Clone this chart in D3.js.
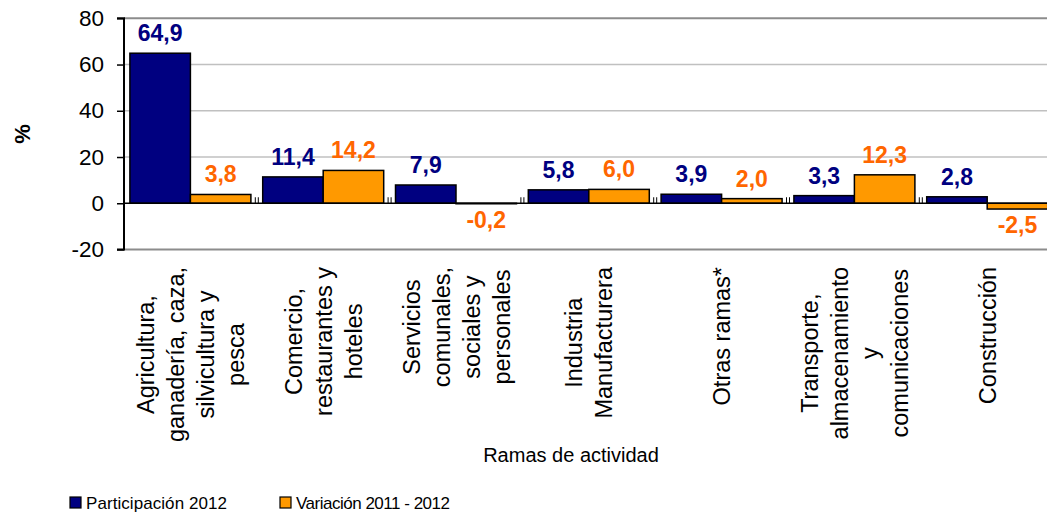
<!DOCTYPE html>
<html>
<head>
<meta charset="utf-8">
<script src="https://cdn.jsdelivr.net/npm/d3@7"></script>
<style>
  html, body { margin: 0; padding: 0; background: #fff; }
  svg { display: block; font-family: "Liberation Sans", Arial, sans-serif; }
</style>
</head>
<body>
<svg id="chart" width="1047" height="514"></svg>
<script>
// Ramas de actividad (each entry is a list of wrapped label lines)
const categories = [
  ["Agricultura,", "ganadería, caza,", "silvicultura y", "pesca"],
  ["Comercio,", "restaurantes y", "hoteles"],
  ["Servicios", "comunales,", "sociales y", "personales"],
  ["Industria", "Manufacturera"],
  ["Otras ramas*"],
  ["Transporte,", "almacenamiento", "y", "comunicaciones"],
  ["Construcción"]
];
const participacion2012 = [64.9, 11.4, 7.9, 5.8, 3.9, 3.3, 2.8];
const variacion2011_2012 = [3.8, 14.2, -0.2, 6.0, 2.0, 12.3, -2.5];
const yTicks = [-20, 0, 20, 40, 60, 80];
const seriesNames = ["Participación 2012", "Variación 2011 - 2012"];

const barColors = ["#000080", "#FF9900"];
const labelColors = ["#000080", "#FF6600"];

const svg = d3.select("#chart");
const plotLeft = 124, plotTop = 18.3, plotBottom = 249.5;
const groupW = 132.8;
const plotRight = plotLeft + groupW * categories.length;

const ids = categories.map((c, i) => i);
const x0 = d3.scaleBand().domain(ids).range([plotLeft, plotRight]).paddingInner(0).paddingOuter(0);
const x1 = d3.scaleBand().domain([0, 1]).range([0, x0.bandwidth()]).paddingOuter(0.0976).paddingInner(0);
const y = d3.scaleLinear().domain([-20, 80]).range([plotBottom, plotTop]);

// light gridlines
svg.append("g").selectAll("line").data([20, 40, 60]).join("line")
  .attr("x1", plotLeft).attr("x2", plotRight)
  .attr("y1", d => y(d)).attr("y2", d => y(d))
  .attr("stroke", "#c0c0c0").attr("stroke-width", 1.5);

// plot frame top / bottom
svg.append("g").selectAll("line").data([80, -20]).join("line")
  .attr("x1", plotLeft).attr("x2", plotRight)
  .attr("y1", d => y(d)).attr("y2", d => y(d))
  .attr("stroke", "#8c8c8c").attr("stroke-width", 2);

// bars
const series = [participacion2012, variacion2011_2012];
const barData = [];
ids.forEach(i => series.forEach((s, k) => barData.push({ i, k, v: s[i] })));

svg.append("g").selectAll("rect").data(barData).join("rect")
  .attr("x", d => x0(d.i) + x1(d.k))
  .attr("width", x1.bandwidth())
  .attr("y", d => y(Math.max(0, d.v)))
  .attr("height", d => Math.max(0.5, Math.abs(y(d.v) - y(0))))
  .attr("fill", d => barColors[d.k])
  .attr("stroke", "#000").attr("stroke-width", 1.5);

// zero axis line with category tick marks
svg.append("line")
  .attr("x1", plotLeft).attr("x2", plotRight)
  .attr("y1", y(0)).attr("y2", y(0))
  .attr("stroke", "#000").attr("stroke-width", 1.5);
const bounds = ids.slice(1).map(i => x0(i));
svg.append("g").selectAll("path").data(bounds).join("path")
  .attr("d", b => `M${b - 1.5},${y(0)}v-6M${b + 1.5},${y(0)}v-6`)
  .attr("stroke", "#000").attr("stroke-width", 1);

// y axis
const yAxis = d3.axisLeft(y).tickValues(yTicks).tickSize(7).tickPadding(13)
  .tickFormat(d => String(d));
const ya = svg.append("g").attr("transform", `translate(${plotLeft},0)`).call(yAxis);
ya.select(".domain").attr("stroke", "#000").attr("stroke-width", 2)
  .attr("d", `M-7,${y(80)}H0V${y(-20)}H-7`);
ya.selectAll(".tick line").attr("stroke", "#000").attr("stroke-width", 1.5);
ya.selectAll(".tick text").attr("font-size", 22.5).attr("fill", "#000")
  .attr("font-family", "Liberation Sans, Arial, sans-serif");

// y axis title
svg.append("text")
  .attr("transform", "translate(30,134) rotate(-90)")
  .attr("text-anchor", "middle")
  .attr("font-size", 22).attr("font-weight", "bold")
  .text("%");

// value labels
const fmt = v => d3.format(".1f")(v).replace(".", ",").replace("−", "-");
svg.append("g").selectAll("text").data(barData).join("text")
  .attr("x", d => x0(d.i) + x1(d.k) + x1.bandwidth() / 2)
  .attr("y", d => d.v >= 0 ? y(d.v) - 12 : y(d.v) + 24)
  .attr("text-anchor", "middle")
  .attr("font-size", 23).attr("font-weight", "bold")
  .attr("fill", d => labelColors[d.k])
  .text(d => fmt(d.v));

// category labels, rotated, lines centred within each block
const lineGap = 30;
const catG = svg.append("g");
categories.forEach((lines, i) => {
  const cx = x0(i) + x0.bandwidth() / 2;
  const g = catG.append("g");
  const texts = lines.map((ln, j) => g.append("text")
    .attr("font-size", 23.5).attr("fill", "#000")
    .attr("text-anchor", "middle")
    .text(ln));
  const maxLen = d3.max(texts, t => t.node().getComputedTextLength());
  const cy = 267 + maxLen / 2;
  texts.forEach((t, j) => {
    const lx = cx + (j - (lines.length - 1) / 2) * lineGap + 8.5;
    t.attr("transform", `translate(${lx},${cy}) rotate(-90)`);
  });
});

// x axis title
svg.append("text")
  .attr("x", 571).attr("y", 462)
  .attr("text-anchor", "middle")
  .attr("font-size", 20).attr("fill", "#000")
  .text("Ramas de actividad");

// legend
const legendX = [70, 280];
const legendLen = [141, 154];
const lg = svg.append("g").selectAll("g").data(seriesNames).join("g")
  .attr("transform", (d, k) => `translate(${legendX[k]},497)`);
lg.append("rect").attr("width", 11).attr("height", 11)
  .attr("fill", (d, k) => barColors[k]).attr("stroke", "#000").attr("stroke-width", 1.2);
lg.append("text").attr("x", 16).attr("y", 12)
  .attr("font-size", 17).attr("fill", "#000")
  .attr("textLength", (d, k) => legendLen[k]).attr("lengthAdjust", "spacing")
  .text(d => d);
</script>
</body>
</html>
